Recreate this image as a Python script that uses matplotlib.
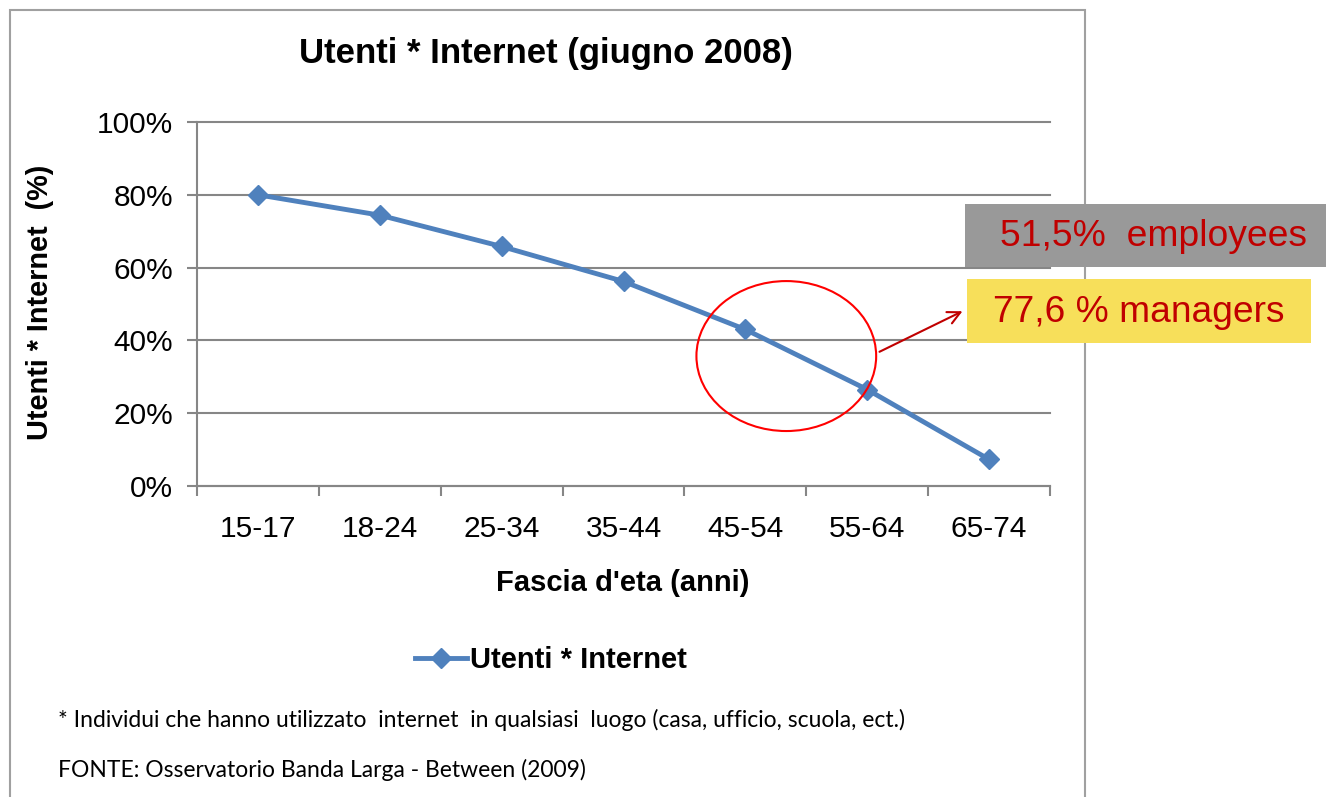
import matplotlib
matplotlib.use("Agg")
import matplotlib.pyplot as plt
from matplotlib.patches import Rectangle, Ellipse
from matplotlib.ticker import FixedLocator, NullFormatter, FixedFormatter

# dati
fasce = ["15-17", "18-24", "25-34", "35-44", "45-54", "55-64", "65-74"]
utenti = [80.0, 74.4, 65.8, 56.2, 43.0, 26.5, 7.3]
yticks = [0, 20, 40, 60, 80, 100]

plt.rcParams['font.family'] = ['Liberation Sans', 'DejaVu Sans']
note_font = ['Lato', 'Liberation Sans', 'DejaVu Sans']
W, H = 1326, 797
fig = plt.figure(figsize=(W / 100, H / 100), dpi=100)

def fx(px):
    return px / W

def fy(py):
    return 1 - py / H

# cornice del grafico
fig.patches.append(Rectangle((fx(10), -0.05), fx(1085) - fx(10), fy(10) + 0.05,
                             transform=fig.transFigure, fill=False,
                             edgecolor='#a0a0a0', linewidth=1.5))

ax = fig.add_axes([fx(197), fy(486), fx(1050) - fx(197), fy(122) - fy(486)])
x = list(range(len(fasce)))
ax.plot(x, utenti, color='#4f81bd', linewidth=3.5, marker='D', markersize=10,
        label='Utenti * Internet', zorder=3)

ax.set_xlim(-0.5, len(fasce) - 0.5)
ax.set_ylim(0, 100)
ax.set_yticks(yticks)
ax.set_yticklabels([f"{v}%" for v in yticks], fontsize=21.5)
ax.grid(axis='y', color='#868686', linewidth=1.5)
for gl in ax.get_ygridlines():
    gl.set_clip_on(False)
ax.set_axisbelow(True)

ax.xaxis.set_major_locator(FixedLocator([i - 0.5 for i in range(len(fasce) + 1)]))
ax.xaxis.set_major_formatter(NullFormatter())
ax.xaxis.set_minor_locator(FixedLocator(x))
ax.xaxis.set_minor_formatter(FixedFormatter(fasce))
ax.tick_params(axis='x', which='major', length=7, width=1.5, color='#868686', direction='out')
ax.tick_params(axis='x', which='minor', length=0, labelsize=21.5, pad=21)
ax.tick_params(axis='y', length=7, width=1.5, color='#868686', pad=10)

for s in ['top', 'right']:
    ax.spines[s].set_visible(False)
for s in ['left', 'bottom']:
    ax.spines[s].set_color('#868686')
    ax.spines[s].set_linewidth(1.5)

fig.text(fx(546), fy(53), "Utenti * Internet (giugno 2008)", ha='center', va='center',
         fontsize=25, fontweight='bold')
fig.text(fx(40), fy(302), "Utenti * Internet  (%)", rotation=90, ha='center', va='center',
         fontsize=20.8, fontweight='bold')
fig.text(fx(623), fy(583), "Fascia d'eta (anni)", ha='center', va='center',
         fontsize=21, fontweight='bold')

fig.legend(loc='center', bbox_to_anchor=(fx(551), fy(660)), frameon=False,
           prop={'size': 21, 'weight': 'bold'}, handlelength=1.8, handletextpad=0.1)

fig.text(fx(58), fy(720), "* Individui che hanno utilizzato  internet  in qualsiasi  luogo (casa, ufficio, scuola, ect.)",
         ha='left', va='center', fontsize=16.5, family=note_font)
fig.text(fx(58), fy(770), "FONTE: Osservatorio Banda Larga - Between (2009)",
         ha='left', va='center', fontsize=16.5, family=note_font)

# cerchio rosso
ax.add_patch(Ellipse((4.336, 35.7), 1.475, 41.2, fill=False, edgecolor='#ff0000',
                     linewidth=1.5, clip_on=False, zorder=4))
fig.add_artist(plt.Annotation("", xy=(fx(965), fy(310)), xytext=(fx(877), fy(353)),
                              xycoords='figure fraction', textcoords='figure fraction',
                              arrowprops=dict(arrowstyle='->,head_length=0.9,head_width=0.45',
                                              color='#c00000', linewidth=1.5)))

# riquadri
fig.patches.append(Rectangle((fx(965), fy(267)), fx(1326) - fx(965), fy(204) - fy(267),
                             transform=fig.transFigure, facecolor='#999999', edgecolor='none'))
fig.patches.append(Rectangle((fx(967), fy(343)), fx(1311) - fx(967), fy(279) - fy(343),
                             transform=fig.transFigure, facecolor='#f7df5a', edgecolor='none'))
fig.text(fx(1000), fy(237), "51,5%  employees", ha='left', va='center', fontsize=26.8, color='#c00000')
fig.text(fx(993), fy(312), "77,6 % managers", ha='left', va='center', fontsize=26.7, color='#c00000')

fig.savefig("out.png", dpi=100)
